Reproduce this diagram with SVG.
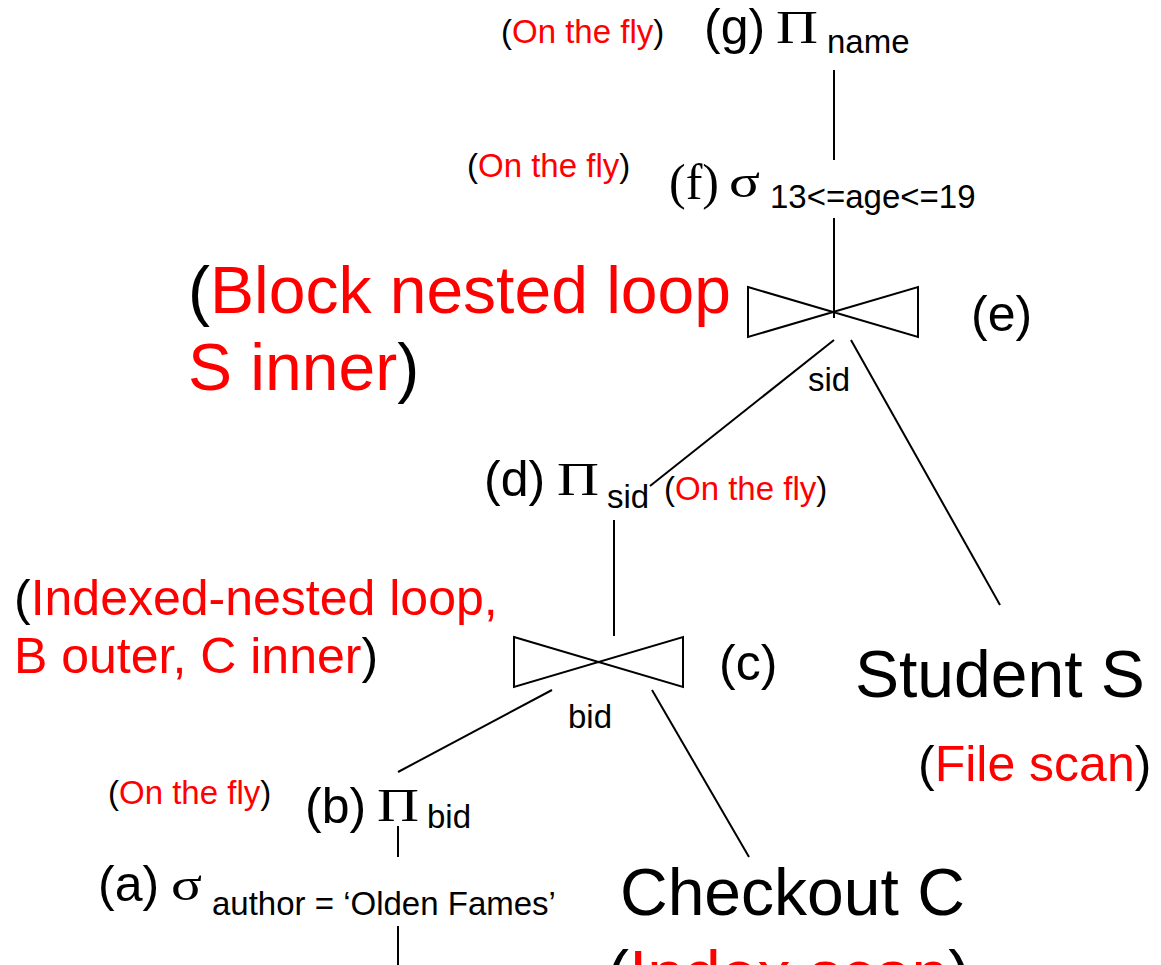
<svg xmlns="http://www.w3.org/2000/svg" width="1161" height="965" viewBox="0 0 1161 965">
  <style>
    .s{font-family:"Liberation Sans",Arial,sans-serif;fill:#000}
    .t{font-family:"Liberation Serif","Times New Roman",serif;fill:#000}
    .r{fill:#f00}
    .sm{font-size:33px}
    .op{font-size:50px}
    .gk{font-size:46px}
    .mid{font-size:50px}
    .big{font-size:66px}
    .ln{stroke:#000;stroke-width:2;fill:none}
    .bow{stroke:#000;stroke-width:2;fill:#fff;stroke-linejoin:miter}
  </style>
  <rect width="1161" height="965" fill="#fff"/>

  <!-- tree edges -->
  <g id="connectors" class="ln">
    <line x1="834" y1="70" x2="834" y2="160"/>
    <line x1="834" y1="218" x2="834" y2="318"/>
    <line x1="834" y1="340" x2="650" y2="486"/>
    <line x1="851" y1="340" x2="1000" y2="605"/>
    <line x1="614" y1="520" x2="614" y2="636"/>
    <line x1="552" y1="690" x2="398" y2="772"/>
    <line x1="652" y1="690" x2="749" y2="857"/>
    <line x1="398" y1="826" x2="398" y2="857"/>
    <line x1="398" y1="926" x2="398" y2="965"/>
  </g>

  <!-- (g) projection on name -->
  <g id="node-g">
    <text class="s sm" x="501" y="43">(<tspan class="r">On the fly</tspan>)</text>
    <text class="s op" x="704" y="44">(g)</text>
    <text class="t gk" x="776" y="43" textLength="42" lengthAdjust="spacingAndGlyphs">Π</text>
    <text class="s sm" x="827" y="53">name</text>
  </g>

  <!-- (f) selection on age -->
  <g id="node-f">
    <text class="s sm" x="467" y="177">(<tspan class="r">On the fly</tspan>)</text>
    <text class="t op" x="669" y="199">(f)</text>
    <text class="t gk" x="729" y="197" textLength="31" lengthAdjust="spacingAndGlyphs">σ</text>
    <text class="s sm" x="770" y="208">13&lt;=age&lt;=19</text>
  </g>

  <!-- (e) join on sid -->
  <g id="node-e">
    <path class="bow" d="M748,287 L918,337 L918,287 L748,337 Z"/>
    <text class="s big" x="188" y="313">(<tspan class="r">Block nested loop</tspan></text>
    <text class="s big" x="188" y="390"><tspan class="r">S inner</tspan>)</text>
    <text class="s op" x="971" y="331">(e)</text>
    <text class="s sm" x="808" y="391">sid</text>
  </g>

  <!-- (d) projection on sid -->
  <g id="node-d">
    <text class="s op" x="484" y="496">(d)</text>
    <text class="t gk" x="557" y="495" textLength="42" lengthAdjust="spacingAndGlyphs">Π</text>
    <text class="s sm" x="607" y="508">sid</text>
    <text class="s sm" x="664" y="500">(<tspan class="r">On the fly</tspan>)</text>
  </g>

  <!-- (c) join on bid -->
  <g id="node-c">
    <path class="bow" d="M514,637 L683,687 L683,637 L514,687 Z"/>
    <text class="s mid" x="14" y="615">(<tspan class="r">Indexed-nested loop,</tspan></text>
    <text class="s mid" x="14" y="673"><tspan class="r">B outer, C inner</tspan>)</text>
    <text class="s op" x="719" y="680">(c)</text>
    <text class="s sm" x="568" y="728">bid</text>
  </g>

  <!-- Student relation -->
  <g id="node-student">
    <text class="s big" x="855" y="697">Student S</text>
    <text class="s mid" x="918" y="781">(<tspan class="r">File scan</tspan>)</text>
  </g>

  <!-- (b) projection on bid -->
  <g id="node-b">
    <text class="s sm" x="108" y="804">(<tspan class="r">On the fly</tspan>)</text>
    <text class="s op" x="305" y="823">(b)</text>
    <text class="t gk" x="377" y="821" textLength="42" lengthAdjust="spacingAndGlyphs">Π</text>
    <text class="s sm" x="427" y="828">bid</text>
  </g>

  <!-- (a) selection on author -->
  <g id="node-a">
    <text class="s op" x="98" y="901">(a)</text>
    <text class="t gk" x="171" y="900" textLength="31" lengthAdjust="spacingAndGlyphs">σ</text>
    <text class="s sm" x="212" y="915">author = ‘Olden Fames’</text>
  </g>

  <!-- Checkout relation -->
  <g id="node-checkout">
    <text class="s big" x="620" y="915">Checkout C</text>
    <text class="s big" x="607" y="997">(<tspan class="r">Index scan</tspan>)</text>
  </g>
</svg>
